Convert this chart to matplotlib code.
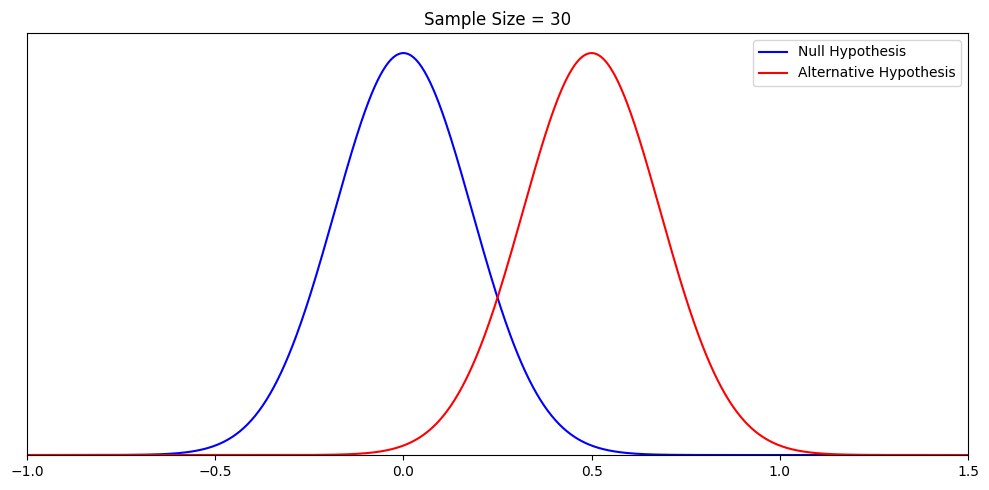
import numpy as np
import matplotlib.pyplot as plt

# ── Data ──────────────────────────────────────────────
sample_size = 30
population_sd = 1.0
null_mean = 0.0
alt_mean = 0.5
x_range = (-1.0, 1.5)
labels = ["Null Hypothesis", "Alternative Hypothesis"]
colors = ["blue", "red"]

se = population_sd / np.sqrt(sample_size)
x = np.linspace(x_range[0], x_range[1], 1000)


def norm_pdf(v, mu, s):
    return np.exp(-0.5 * ((v - mu) / s) ** 2) / (s * np.sqrt(2 * np.pi))


fig, ax = plt.subplots(figsize=(9.89, 4.9), dpi=100)
for mu, lbl, c in zip([null_mean, alt_mean], labels, colors):
    ax.plot(x, norm_pdf(x, mu, se), color=c, label=lbl)

ax.set_title(f"Sample Size = {sample_size}")
ax.set_xlim(*x_range)
ax.set_ylim(bottom=0)
ax.set_yticks([])
ax.legend(loc="upper right")

fig.subplots_adjust(left=0.0273, right=0.9788, top=0.9327, bottom=0.0714)
fig.savefig("out.png", dpi=100)
